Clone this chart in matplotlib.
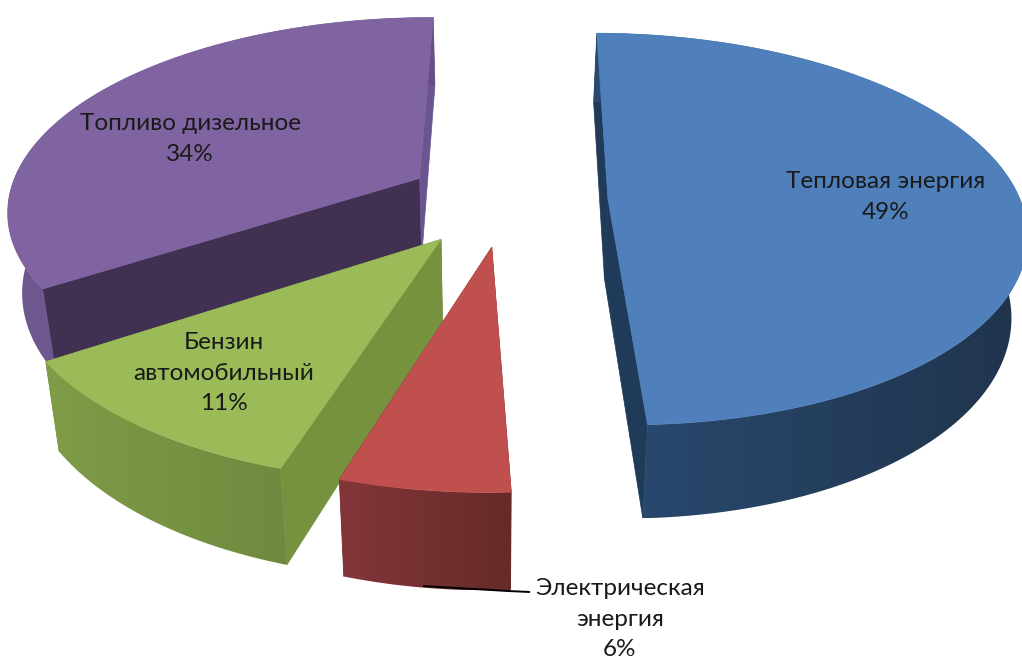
import numpy as np
import matplotlib
matplotlib.use('Agg')
import matplotlib.pyplot as plt
from matplotlib.colors import LinearSegmentedColormap
from matplotlib.patches import Polygon

names = ['Тепловая\u00a0энергия', 'Электрическая\nэнергия', 'Бензин\nавтомобильный', 'Топливо\u00a0дизельное']
shares = [49.2, 5.5, 10.95, 34.35]
top_colors = ['#4f80bb', '#c0504d', '#9bbb59', '#8064a2']
wall_left = ['#2a4a72', '#83363a', '#7f9c48', '#6f5790']
wall_right = ['#20344b', '#672a28', '#6f8a3e', '#664f84']
cut_start = ['#203a5a', '#6c2c2a', '#76923f', '#403152']
cut_end = ['#203a5a', '#6c2c2a', '#76923f', '#6b5590']
label_xy = [(886, 197), (620, 619), (224, 373), (190, 139)]
explode = [0.25, 0.24, 0.25, 0.24]
draw_order = [3, 2, 1, 0]

# perspective of the pie plane, fitted on the slice corners
FIRST_ANGLE = 0.4
X_VP, Y_VP = 505.0, -1053.0
GX, GY = 3290.0, 10000.0
W0, WK = 7.981, 1.22
DEPTH = 0.0634
X_FOOT, X_SHRINK = 490.0, 0.03


def project(u, v, low=False):
    w = W0 + WK * v
    x = X_VP + GX * u / w
    y = Y_VP + GY / w
    if low:
        y = Y_VP + (y - Y_VP) * (1 + DEPTH)
        x = x + (X_FOOT - x) * X_SHRINK
    return x, y


fig = plt.figure(figsize=(10.22, 6.62), dpi=100)
ax = fig.add_axes([0, 0, 1, 1])
ax.set_xlim(0, 1022)
ax.set_ylim(662, 0)
ax.axis('off')

angles = np.radians(FIRST_ANGLE) + np.cumsum([0] + shares) / sum(shares) * 2 * np.pi


def face(xs, ys, color, z):
    ax.add_patch(Polygon(np.column_stack([xs, ys]), closed=True, facecolor=color,
                         edgecolor=color, linewidth=0.5, zorder=z))


for n, i in enumerate(draw_order):
    a0, a1 = angles[i], angles[i + 1]
    mid = (a0 + a1) / 2
    cu, cv = explode[i] * np.sin(mid), explode[i] * np.cos(mid)
    t = np.linspace(a0, a1, 121)
    us, vs = cu + np.sin(t), cv + np.cos(t)
    z = 10 * n

    # the two cut faces
    for a, col in [(a0, cut_start[i]), (a1, cut_end[i])]:
        eu, ev = cu + np.sin(a), cv + np.cos(a)
        p = [project(cu, cv), project(eu, ev), project(eu, ev, True), project(cu, cv, True)]
        face([q[0] for q in p], [q[1] for q in p], col, z + 1)

    # outer wall with a left to right gradient
    xt, yt = project(us, vs)
    xb, yb = project(us, vs, True)
    wall = Polygon(np.column_stack([np.r_[xt, xb[::-1]], np.r_[yt, yb[::-1]]]), closed=True,
                   transform=ax.transData, facecolor='none', edgecolor='none')
    ax.add_patch(wall)
    cmap = LinearSegmentedColormap.from_list('wall', [wall_left[i], wall_right[i]])
    left, right = min(xt.min(), xb.min()), max(xt.max(), xb.max())
    im = ax.imshow(np.linspace(0, 1, 256).reshape(1, -1), cmap=cmap, aspect='auto',
                   extent=[left, right, max(yt.max(), yb.max()), min(yt.min(), yb.min())],
                   zorder=z + 2, interpolation='bilinear')
    im.set_clip_path(wall)

    # top of the slice
    ax_x, ax_y = project(cu, cv)
    face(np.r_[ax_x, xt], np.r_[ax_y, yt], top_colors[i], z + 3)

ax.set_xlim(0, 1022)
ax.set_ylim(662, 0)

# leader line of the small slice
ax.plot([423, 508, 530], [586, 591, 592], color='black', lw=1.4, zorder=60,
        solid_capstyle='butt')

for name, share, (lx, ly) in zip(names, shares, label_xy):
    ax.text(lx, ly, f'{name}\n{share:.0f}%', ha='center', va='center', family=['Lato', 'Open Sans'],
            fontsize=17.5, color='#1a1a1a', linespacing=1.55, zorder=70)

fig.savefig('out.png', dpi=100)
